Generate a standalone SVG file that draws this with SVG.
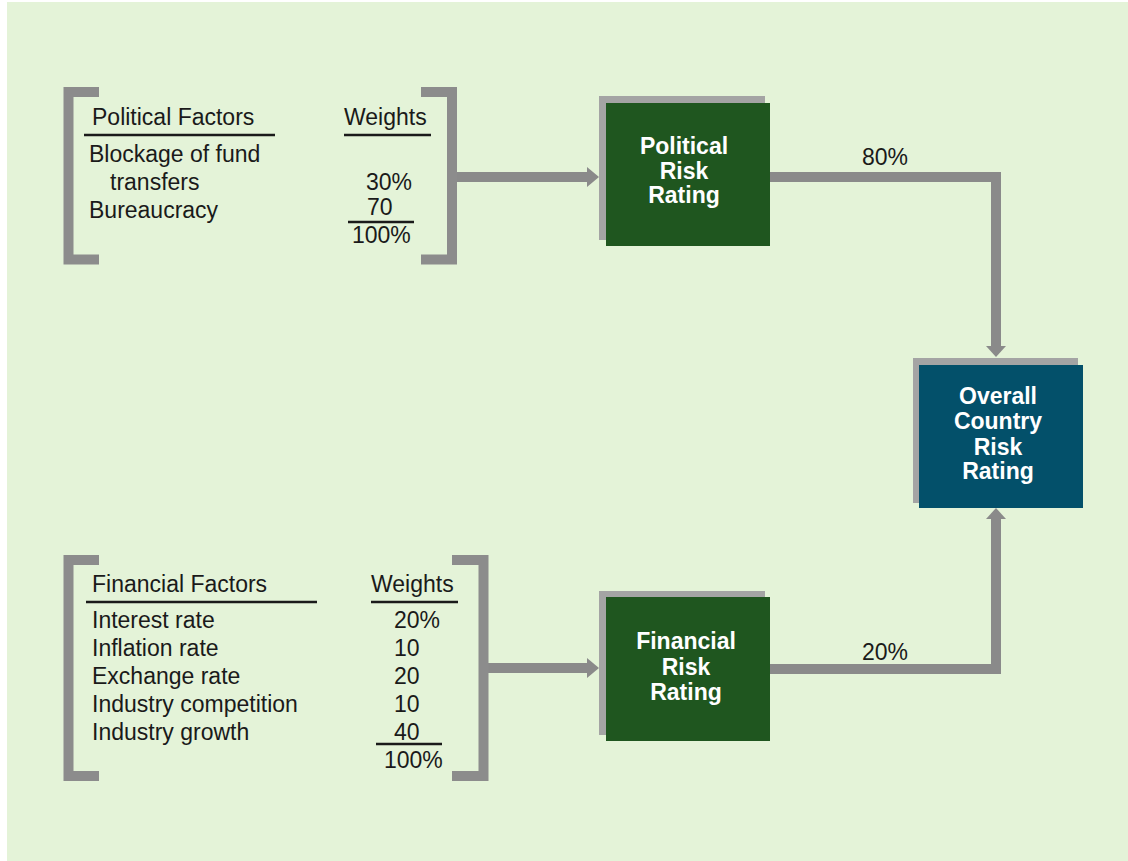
<svg xmlns="http://www.w3.org/2000/svg" width="1128" height="861" viewBox="0 0 1128 861">
<defs>
<style>
.bg{fill:#e4f3d8}
.br{fill:none;stroke:#8c8c8c;stroke-width:10;stroke-linejoin:miter}
.cn{fill:none;stroke:#8a8a8a;stroke-width:10;stroke-linejoin:miter}
.ah{fill:#8a8a8a}
.sh{fill:#a4a4a4}
.gr{fill:#1f561f}
.tl{fill:#03506a}
.t{font-family:"Liberation Sans",Arial,sans-serif;font-size:23px;fill:#1a1a1a}
.n{font-family:"Liberation Sans",Arial,sans-serif;font-size:23px;font-weight:bold;fill:#ffffff;text-anchor:middle}
.ul{stroke:#1a1a1a;stroke-width:2.5}
</style>
</defs>
<rect class="bg" x="7" y="2" width="1121" height="859"/>

<g id="connectors">
<path class="cn" d="M452,177 H590"/>
<polygon class="ah" points="587,167 599,177 587,187"/>
<path class="cn" d="M483.5,668 H590"/>
<polygon class="ah" points="587,658 599,668 587,678"/>
<path class="cn" d="M770,177 H996 V347"/>
<polygon class="ah" points="986,346 996,357 1006,346"/>
<path class="cn" d="M770,669 H996 V519"/>
<polygon class="ah" points="986,519 996,508 1006,519"/>
<text class="t" x="885" y="165" text-anchor="middle" font-size="24">80%</text>
<text class="t" x="885" y="660" text-anchor="middle" font-size="24">20%</text>
</g>

<g id="political-factors">
<path class="br" d="M99,92 H68.5 V259.5 H99"/>
<path class="br" d="M421,92 H452 V259.5 H421"/>
<text class="t" x="92" y="125">Political Factors</text>
<line class="ul" x1="84" y1="135" x2="275" y2="135"/>
<text class="t" x="344" y="125">Weights</text>
<line class="ul" x1="344" y1="135" x2="431" y2="135"/>
<text class="t" x="89" y="162">Blockage of fund</text>
<text class="t" x="110" y="190">transfers</text>
<text class="t" x="89" y="218">Bureaucracy</text>
<text class="t" x="366" y="190">30%</text>
<text class="t" x="367" y="215">70</text>
<line class="ul" x1="348" y1="222" x2="414" y2="222"/>
<text class="t" x="352" y="243">100%</text>
</g>

<g id="financial-factors">
<path class="br" d="M99,560 H68.5 V776 H99"/>
<path class="br" d="M452,560 H483.5 V776 H452"/>
<text class="t" x="92" y="592">Financial Factors</text>
<line class="ul" x1="86" y1="602" x2="317" y2="602"/>
<text class="t" x="371" y="592">Weights</text>
<line class="ul" x1="371" y1="602" x2="458" y2="602"/>
<text class="t" x="92" y="628">Interest rate</text>
<text class="t" x="92" y="656">Inflation rate</text>
<text class="t" x="92" y="684">Exchange rate</text>
<text class="t" x="92" y="712">Industry competition</text>
<text class="t" x="92" y="740">Industry growth</text>
<text class="t" x="394" y="628">20%</text>
<text class="t" x="394" y="656">10</text>
<text class="t" x="394" y="684">20</text>
<text class="t" x="394" y="712">10</text>
<text class="t" x="394" y="740">40</text>
<line class="ul" x1="376" y1="744" x2="442" y2="744"/>
<text class="t" x="384" y="768">100%</text>
</g>

<g id="political-risk-rating">
<rect class="sh" x="599" y="96" width="166" height="144"/>
<rect class="gr" x="606" y="103" width="164" height="143"/>
<text class="n" x="684" y="154">Political</text>
<text class="n" x="684" y="179">Risk</text>
<text class="n" x="684" y="203">Rating</text>
</g>

<g id="financial-risk-rating">
<rect class="sh" x="599" y="591" width="166" height="144"/>
<rect class="gr" x="606" y="597" width="164" height="144"/>
<text class="n" x="686" y="649">Financial</text>
<text class="n" x="686" y="675">Risk</text>
<text class="n" x="686" y="700">Rating</text>
</g>

<g id="overall-country-risk-rating">
<rect class="sh" x="913" y="358" width="165" height="145"/>
<rect class="tl" x="919" y="365" width="164" height="143"/>
<text class="n" x="998" y="404">Overall</text>
<text class="n" x="998" y="429">Country</text>
<text class="n" x="998" y="455">Risk</text>
<text class="n" x="998" y="479">Rating</text>
</g>
</svg>
